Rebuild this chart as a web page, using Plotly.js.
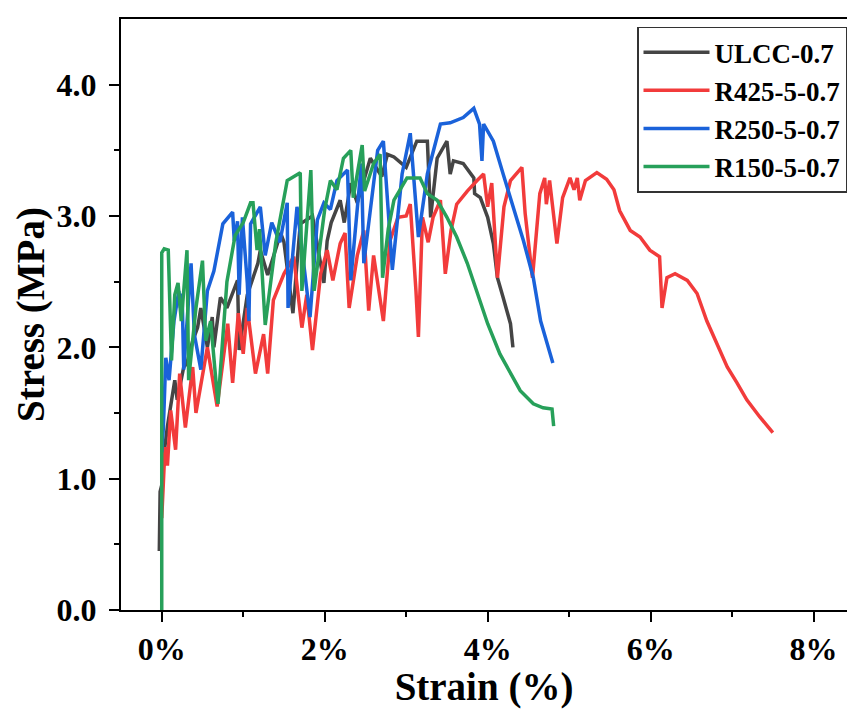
<!DOCTYPE html>
<html>
<head>
<meta charset="utf-8">
<script src="https://cdn.plot.ly/plotly-3.0.1.min.js"></script>
<style>html,body{margin:0;padding:0;overflow:hidden;background:#fff}</style>
</head>
<body>
<div id="chart" style="width:847px;height:709px"></div>
<script>
var seriesNames = ["ULCC-0.7", "R425-5-0.7", "R250-5-0.7", "R150-5-0.7"];
var seriesColors = ["#454545", "#f23b3b", "#1a62da", "#27a05a"];
var xTickVals = [0, 2, 4, 6, 8];
var xTickText = ["0%", "2%", "4%", "6%", "8%"];
var yTickVals = [0, 1, 2, 3, 4];
var yTickText = ["0.0", "1.0", "2.0", "3.0", "4.0"];

var ulccStrain = [-0.03,-0.02,0.0,0.03,0.07,0.11,0.16,0.19,0.27,0.31,0.38,0.44,0.48,0.56,0.62,0.64,0.72,0.8,0.93,0.95,1.05,1.18,1.21,1.3,1.46,1.5,1.61,1.7,1.85,1.99,2.03,2.08,2.19,2.24,2.32,2.4,2.56,2.7,2.77,2.85,3.0,3.13,3.26,3.3,3.38,3.5,3.54,3.58,3.7,3.83,3.84,3.91,4.0,4.07,4.12,4.19,4.28,4.31];
var ulccStress = [0.45,0.9,0.95,1.2,1.4,1.57,1.75,1.6,1.85,1.88,2.05,2.15,2.3,2.0,2.23,2.0,2.38,2.3,2.51,1.98,2.4,2.64,2.74,2.55,2.87,2.8,2.26,2.94,3.0,2.49,2.81,2.95,3.12,2.95,3.25,3.1,3.44,3.3,3.47,3.45,3.37,3.57,3.57,2.99,3.44,3.57,3.32,3.42,3.4,3.29,3.17,3.14,2.99,2.79,2.53,2.38,2.18,2.0];

var r425Strain = [0.0,0.02,0.04,0.07,0.11,0.17,0.22,0.29,0.38,0.42,0.56,0.68,0.81,0.87,0.94,1.0,1.05,1.15,1.25,1.3,1.37,1.5,1.62,1.72,1.78,1.85,1.95,2.03,2.1,2.19,2.25,2.3,2.4,2.48,2.54,2.6,2.65,2.72,2.8,2.9,3.0,3.05,3.12,3.15,3.2,3.27,3.33,3.42,3.48,3.55,3.62,3.75,3.87,3.95,4.0,4.05,4.12,4.2,4.28,4.42,4.46,4.55,4.64,4.7,4.72,4.76,4.85,4.92,5.01,5.06,5.1,5.13,5.2,5.34,5.46,5.55,5.62,5.75,5.87,5.99,6.11,6.14,6.2,6.3,6.45,6.57,6.69,6.81,6.94,7.06,7.18,7.34,7.5];
var r425Stress = [0.7,1.0,1.24,1.1,1.52,1.22,1.8,1.39,1.85,1.5,2.0,1.55,2.18,1.73,2.26,1.95,2.3,1.8,2.1,1.8,2.36,2.56,2.69,2.15,2.4,1.98,2.56,2.74,2.51,2.79,2.87,2.3,2.7,2.89,2.28,2.7,2.5,2.2,2.81,2.99,3.0,3.09,2.43,2.08,2.99,2.8,2.99,3.12,2.56,2.89,3.09,3.19,3.27,3.32,3.07,3.25,2.53,3.07,3.27,3.37,3.02,2.53,3.17,3.29,3.09,3.27,2.79,3.14,3.29,3.2,3.29,3.12,3.27,3.33,3.28,3.2,3.04,2.89,2.84,2.74,2.69,2.3,2.53,2.56,2.51,2.41,2.2,2.03,1.85,1.73,1.6,1.47,1.35];

var r250Strain = [0.0,0.02,0.05,0.09,0.15,0.21,0.23,0.25,0.27,0.36,0.4,0.48,0.56,0.64,0.75,0.87,0.89,0.93,0.95,0.99,1.05,1.07,1.09,1.21,1.27,1.35,1.45,1.54,1.55,1.66,1.82,1.91,1.99,2.07,2.15,2.28,2.32,2.45,2.48,2.65,2.72,2.8,2.83,2.95,3.05,3.15,3.26,3.42,3.54,3.7,3.83,3.9,3.93,3.95,4.07,4.19,4.31,4.44,4.56,4.65,4.73,4.8];
var r250Stress = [1.2,1.39,1.92,1.75,2.2,2.43,2.3,2.41,1.83,2.64,2.1,1.83,2.43,2.58,2.94,3.03,2.81,2.96,2.4,2.99,2.49,2.2,2.94,3.07,2.7,2.95,2.8,3.1,2.3,3.07,2.23,2.97,3.1,3.05,3.27,3.35,2.51,3.4,2.64,3.5,3.57,2.9,2.59,3.32,3.63,2.84,3.32,3.7,3.71,3.75,3.82,3.7,3.42,3.7,3.57,3.32,3.07,2.81,2.53,2.2,2.03,1.88];

var r150Strain = [0.0,0.0,0.03,0.08,0.12,0.16,0.2,0.24,0.31,0.33,0.42,0.5,0.54,0.6,0.69,0.8,0.9,1.0,1.09,1.12,1.17,1.2,1.27,1.4,1.54,1.7,1.72,1.83,1.87,2.0,2.07,2.15,2.23,2.32,2.35,2.46,2.49,2.6,2.68,2.71,2.78,2.85,3.01,3.17,3.26,3.38,3.5,3.62,3.75,3.87,4.0,4.15,4.28,4.4,4.56,4.68,4.79,4.8,4.81];
var r150Stress = [0.0,2.72,2.75,2.74,1.9,2.4,2.49,2.2,2.74,1.75,2.3,2.66,2.05,2.2,1.57,2.5,2.85,2.95,3.1,3.1,2.74,2.9,2.17,2.8,3.27,3.33,2.43,3.35,2.43,3.05,3.27,3.2,3.44,3.5,3.14,3.54,3.19,3.4,3.47,2.53,2.9,3.12,3.29,3.29,3.17,3.12,2.99,2.84,2.64,2.41,2.18,1.95,1.8,1.67,1.57,1.54,1.53,1.42,1.4];

var xs = [ulccStrain, r425Strain, r250Strain, r150Strain];
var ys = [ulccStress, r425Stress, r250Stress, r150Stress];

var FONT = "Liberation Serif, Times New Roman, serif";
var traces = seriesNames.map(function(n, i){
  return {x: xs[i], y: ys[i], name: n, type: "scatter", mode: "lines",
          line: {color: seriesColors[i], width: 3.5}};
});

var layout = {
  width: 847, height: 709,
  margin: {l: 121, r: 0, t: 19, b: 99},
  paper_bgcolor: "#fff", plot_bgcolor: "#fff",
  font: {family: FONT, color: "#000"},
  showlegend: true,
  legend: {x: 1, xanchor: "right", y: 0.987, yanchor: "top",
           bgcolor: "#fff", bordercolor: "#333", borderwidth: 1.5,
           itemwidth: 66,
           font: {family: FONT, size: 27, weight: "bold", color: "#000"},
           tracegroupgap: 0},
  xaxis: {range: [-0.5, 8.41], tickmode: "array", tickvals: xTickVals, ticktext: xTickText,
          ticks: "outside", ticklen: 10, tickwidth: 2, tickcolor: "#000",
          minor: {tickvals: [1,3,5,7], ticks: "outside", ticklen: 5, tickwidth: 2, tickcolor: "#000"},
          showline: true, linewidth: 2, linecolor: "#000", mirror: true,
          showgrid: false, zeroline: false,
          tickfont: {family: FONT, size: 32, weight: "bold"},
          title: {text: "Strain (%)", font: {family: FONT, size: 39, weight: "bold"}, standoff: 8}},
  yaxis: {range: [0, 4.5], tickmode: "array", tickvals: yTickVals, ticktext: yTickText,
          ticks: "outside", ticklen: 10, tickwidth: 2, tickcolor: "#000",
          minor: {tickvals: [0.5,1.5,2.5,3.5], ticks: "outside", ticklen: 5, tickwidth: 2, tickcolor: "#000"},
          showline: true, linewidth: 2, linecolor: "#000",
          showgrid: false, zeroline: false, ticklabelstandoff: 6,
          tickfont: {family: FONT, size: 32, weight: "bold"},
          title: {text: "Stress (MPa)", font: {family: FONT, size: 39, weight: "bold"}, standoff: 0}}
};

Plotly.newPlot("chart", traces, layout, {displayModeBar: false, staticPlot: true});
</script>
</body>
</html>
